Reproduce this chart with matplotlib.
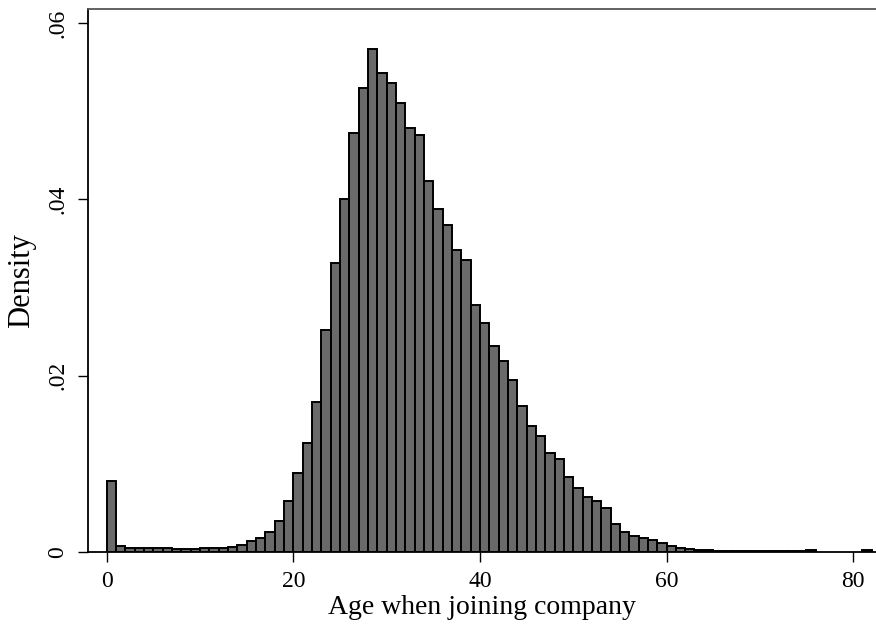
import matplotlib.pyplot as plt

# histogram of age when joining company, 1-year bins starting at 0
bin_starts = list(range(0, 82))
density = [
    0.0080, 0.0006, 0.0004, 0.0004, 0.0004, 0.0004, 0.0004, 0.0003, 0.0003, 0.0003,
    0.0004, 0.0004, 0.0004, 0.0005, 0.0008, 0.0012, 0.0015, 0.0022, 0.0035, 0.0057,
    0.0089, 0.0123, 0.0170, 0.0252, 0.0328, 0.0400, 0.0475, 0.0527, 0.0571, 0.0544,
    0.0532, 0.0510, 0.0481, 0.0473, 0.0421, 0.0389, 0.0371, 0.0343, 0.0331, 0.0280,
    0.0260, 0.0234, 0.0217, 0.0195, 0.0166, 0.0143, 0.0131, 0.0112, 0.0105, 0.0085,
    0.0072, 0.0062, 0.0057, 0.0050, 0.0031, 0.0022, 0.0018, 0.0015, 0.0013, 0.0010,
    0.00065, 0.0004, 0.0003, 0.0002, 0.00015, 0.0001, 0.0001, 0.0001, 0.0001, 0.0001,
    0.0001, 0.0001, 0.0001, 0.0001, 0.0001, 0.00015, 0.0, 0.0, 0.0, 0.0,
    0.0, 0.00015,
]
x_ticks = [0, 20, 40, 60, 80]
y_ticks = [0, 0.02, 0.04, 0.06]
y_labels = ['0', '.02', '.04', '.06']

plt.rcParams['font.family'] = ['Liberation Serif', 'DejaVu Serif']

fig = plt.figure(figsize=(8.76, 6.35), dpi=100)
ax = fig.add_axes([0.1005, 0.1312, 0.9, 0.8542])

xs = [b for b, d in zip(bin_starts, density) if d > 0]
hs = [d for d in density if d > 0]
ax.bar(xs, hs, width=1, align='edge', color='#6a6a6a',
       edgecolor='black', linewidth=1.4)

ax.set_xlim(-2.0, 82.5)
ax.set_ylim(0, 0.0616)
ax.spines['right'].set_visible(False)
for s in ['left', 'top', 'bottom']:
    ax.spines[s].set_linewidth(1.3)
ax.spines['top'].set_color('#555555')

ax.set_xticks(x_ticks)
ax.set_yticks(y_ticks)
ax.set_yticklabels(y_labels, rotation=90, va='center')
ax.tick_params(axis='both', length=7, width=1, labelsize=17, colors='black')
ax.tick_params(axis='x', pad=7)
ax.tick_params(axis='y', pad=7)

ax.set_xlabel('Age when joining company', fontsize=20, labelpad=2)
ax.set_ylabel('Density', fontsize=22, labelpad=8)

fig.savefig('out.png', dpi=100)
